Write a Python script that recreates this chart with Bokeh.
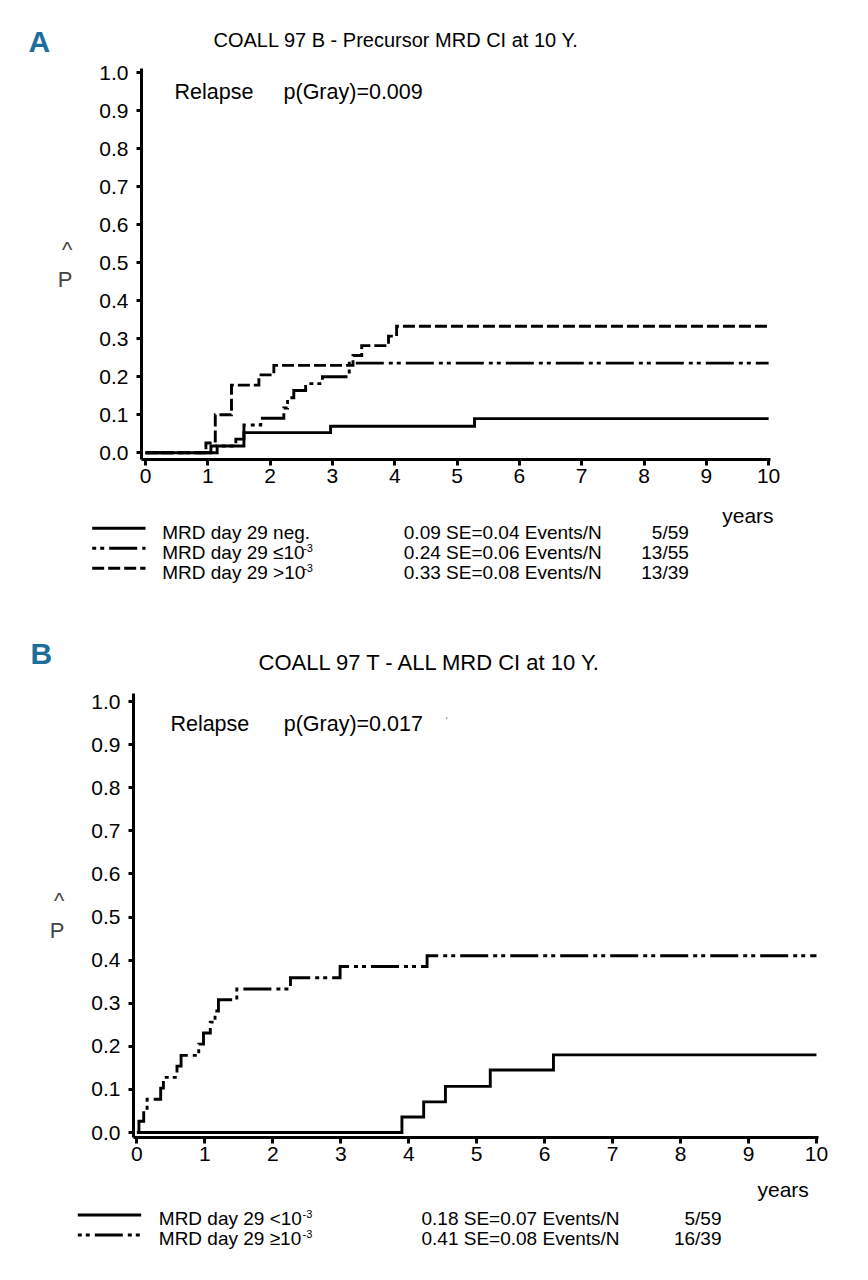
from bokeh.plotting import figure
from bokeh.models import Range1d, FixedTicker, PrintfTickFormatter
from bokeh.layouts import column
from bokeh.embed import file_html
from bokeh.resources import INLINE
from bokeh.core.properties import value

FONT = "Liberation Sans"
LETTER_COLOR = "#1c6e9c"

# ---------------- data ----------------
# Panel A: COALL 97 B-precursor, cumulative incidence of relapse
a_t_neg = [0, 1.15, 1.58, 2.97, 5.28, 10]
a_p_neg = [0, 0.018, 0.053, 0.070, 0.090, 0.090]
a_t_le = [0, 1.05, 1.45, 1.58, 1.85, 2.22, 2.28, 2.38, 2.57, 2.84, 3.27, 10]
a_p_le = [0, 0.018, 0.036, 0.073, 0.091, 0.118, 0.145, 0.164, 0.182, 0.200, 0.236, 0.236]
a_t_gt = [0, 0.97, 1.12, 1.38, 1.82, 2.06, 3.33, 3.47, 3.90, 4.03, 10]
a_p_gt = [0, 0.026, 0.100, 0.178, 0.205, 0.230, 0.256, 0.282, 0.307, 0.333, 0.333]

# Panel B: COALL 97 T-ALL
b_t_lt = [0, 3.90, 4.22, 4.54, 5.20, 6.13, 10]
b_p_lt = [0, 0.036, 0.071, 0.107, 0.145, 0.180, 0.180]
b_t_ge = [0, 0.03, 0.10, 0.15, 0.35, 0.39, 0.59, 0.65, 0.91, 0.98, 1.08, 1.15,
          1.20, 1.47, 2.26, 2.99, 4.27, 10]
b_p_ge = [0, 0.026, 0.051, 0.077, 0.103, 0.128, 0.154, 0.179, 0.205, 0.231,
          0.256, 0.282, 0.308, 0.333, 0.359, 0.385, 0.410, 0.410]

y_ticks = [0.0, 0.1, 0.2, 0.3, 0.4, 0.5, 0.6, 0.7, 0.8, 0.9, 1.0]
x_ticks = [0, 1, 2, 3, 4, 5, 6, 7, 8, 9, 10]

title_a = "COALL 97 B - Precursor MRD CI at 10 Y."
title_b = "COALL 97 T - ALL MRD CI at 10 Y."
relapse_a = ["Relapse", "p(Gray)=0.009"]
relapse_b = ["Relapse", "p(Gray)=0.017"]

leg_a_labels = ["MRD day 29 neg.", "MRD day 29 \u226410", "MRD day 29 >10"]
leg_a_sup = ["", "-3", "-3"]
leg_a_stats = ["0.09 SE=0.04 Events/N", "0.24 SE=0.06 Events/N", "0.33 SE=0.08 Events/N"]
leg_a_counts = ["5/59", "13/55", "13/39"]

leg_b_labels = ["MRD day 29 <10", "MRD day 29 \u226510"]
leg_b_sup = ["-3", "-3"]
leg_b_stats = ["0.18 SE=0.07 Events/N", "0.41 SE=0.08 Events/N"]
leg_b_counts = ["5/59", "16/39"]

# line styles
SOLID = "solid"
DOTDASH = "28 5 4 4 4 5"
DASHED = "12 4"
LW = 2.9

W = 868
SHIFT = 0.32   # baseline correction for texts in the pixel-space strips
DSHIFT = 0.38  # baseline correction for texts inside the plots


def blank(h):
    q = figure(width=W, height=h, x_range=Range1d(0, W), y_range=Range1d(h, 0),
               output_backend="svg", toolbar_location=None, title=None,
               x_axis_location=None, y_axis_location=None, min_border=0,
               frame_align=False)
    q.grid.visible = False
    q.outline_line_color = None
    return q


def txt(q, x, y, s, size, align="left", bold=False, color="black"):
    q.text(x=[x], y=[y - SHIFT * size], text=[s], text_font=value(FONT),
           text_font_size=f"{size}px", text_align=align, text_baseline="alphabetic",
           text_color=color, text_font_style="bold" if bold else "normal")


def main_plot(xr, yr, frame_w, frame_h, bl, bt, bb):
    p = figure(width=W, height=bt + frame_h + bb, x_range=Range1d(*xr), y_range=Range1d(*yr),
               output_backend="svg", toolbar_location=None, title=None,
               min_border_left=bl, min_border_right=W - bl - frame_w,
               min_border_top=bt, min_border_bottom=bb, frame_align=False)
    p.grid.visible = False
    p.outline_line_color = None
    for ax in (p.xaxis[0], p.yaxis[0]):
        ax.axis_line_width = 3
        ax.axis_line_color = "black"
        ax.major_tick_line_width = 3
        ax.major_tick_line_color = "black"
        ax.major_tick_in = 0
        ax.minor_tick_line_color = None
        ax.major_label_text_font = FONT
        ax.major_label_text_font_size = "21px"
        ax.major_label_text_color = "black"
    p.xaxis.ticker = FixedTicker(ticks=x_ticks)
    p.xaxis.formatter = PrintfTickFormatter(format="%d")
    p.xaxis.major_tick_out = 6
    p.xaxis.major_label_standoff = 3
    p.yaxis.ticker = FixedTicker(ticks=y_ticks)
    p.yaxis.formatter = PrintfTickFormatter(format="%.1f")
    p.yaxis.major_tick_out = 5
    p.yaxis.major_label_standoff = 8
    p.yaxis.axis_label = "^\nP"
    p.yaxis.axis_label_orientation = "horizontal"
    p.yaxis.axis_label_text_font = FONT
    p.yaxis.axis_label_text_font_size = "22px"
    p.yaxis.axis_label_text_font_style = "normal"
    p.yaxis.axis_label_standoff = 24
    return p


def curve(p, t, v, dash):
    p.step(x=t, y=v, mode="after", line_color="black", line_width=LW,
           line_dash=dash, line_join="miter")


def data_text(p, xs, y, texts, size, px_per_unit):
    p.text(x=xs, y=[y + DSHIFT * size / px_per_unit] * len(xs), text=texts,
           text_font=value(FONT), text_font_size=f"{size}px",
           text_baseline="alphabetic", text_color="black")


# ---------------- Panel A ----------------
headA = blank(59)
txt(headA, 28, 50.5, "A", 30, bold=True, color=LETTER_COLOR)
txt(headA, 213, 45.5, title_a, 20)

plotA = main_plot((-0.064, 10.03), (-0.0176, 1.0113), 629, 391, 141, 9, 36)
curve(plotA, a_t_neg, a_p_neg, SOLID)
curve(plotA, a_t_le, a_p_le, DOTDASH)
curve(plotA, a_t_gt, a_p_gt, DASHED)
data_text(plotA, [0.465, 2.215], 0.927, relapse_a, 21.5, 380)

legA = blank(105)
txt(legA, 721.7, 26.7, "years", 21)
for i, dash in enumerate([SOLID, DOTDASH, DASHED]):
    yb = 43.3 + 20 * i
    legA.line(x=[91.7, 145], y=[yb - 10.5, yb - 10.5], line_color="black", line_width=LW,
              line_dash=dash, line_dash_offset=(33 if dash == DOTDASH else 0))
    txt(legA, 161.7, yb, leg_a_labels[i], 19)
    if leg_a_sup[i]:
        txt(legA, 302.7, yb - 7, leg_a_sup[i], 11)
    txt(legA, 403.3, yb, leg_a_stats[i], 19)
    txt(legA, 688.3, yb, leg_a_counts[i], 19, align="right")

# ---------------- Panel B ----------------
headB = blank(82)
txt(headB, 30, 62.5, "B", 30, bold=True, color=LETTER_COLOR)
txt(headB, 258, 69, title_b, 22)

plotB = main_plot((-0.05, 10.03), (-0.0116, 1.0186), 685, 444, 133, 11, 34)
curve(plotB, b_t_lt, b_p_lt, SOLID)
curve(plotB, b_t_ge, b_p_ge, DOTDASH)
data_text(plotB, [0.493, 2.16], 0.928, relapse_b, 21.5, 431)
plotB.text(x=[4.54], y=[0.955], text=["'"], text_font=value(FONT),
           text_font_size="11px", text_baseline="alphabetic", text_color="#888888")

legB = blank(99)
txt(legB, 757, 25, "years", 21)
for i, dash in enumerate([SOLID, DOTDASH]):
    yb = 53 + 20 * i
    legB.line(x=[77.3, 140.7], y=[yb - 9.5, yb - 9.5], line_color="black", line_width=LW,
              line_dash=dash, line_dash_offset=(33 if dash == DOTDASH else 0))
    txt(legB, 158.3, yb, leg_b_labels[i], 19)
    txt(legB, 302, yb - 7, leg_b_sup[i], 11)
    txt(legB, 421, yb, leg_b_stats[i], 19)
    txt(legB, 721, yb, leg_b_counts[i], 19, align="right")

layout = column(headA, plotA, legA, headB, plotB, legB, spacing=0)

with open("out.html", "w") as f:
    f.write(file_html(layout, INLINE))
